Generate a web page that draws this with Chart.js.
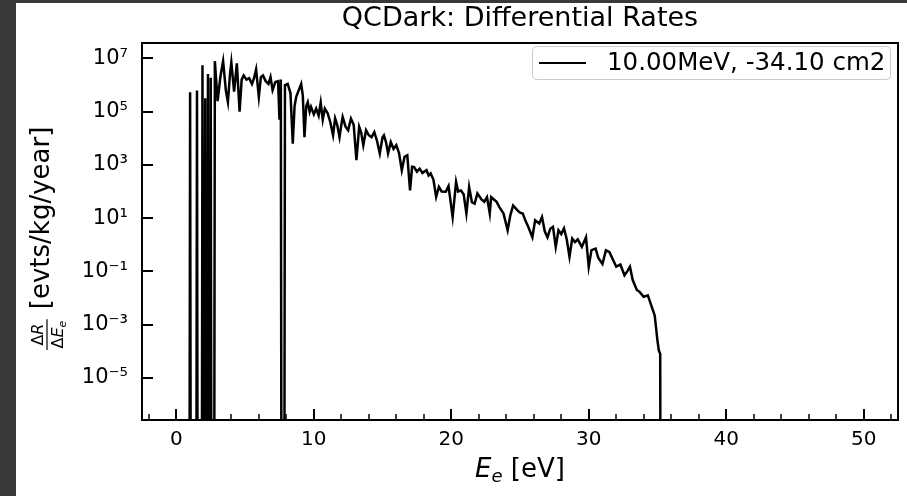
<!DOCTYPE html>
<html>
<head>
<meta charset="utf-8">
<script src="https://cdn.jsdelivr.net/npm/chart.js@4.4.0/dist/chart.umd.min.js"></script>
<style>
  html, body { margin: 0; padding: 0; width: 907px; height: 496px; overflow: hidden; background: #383838; }
  #wrap { position: absolute; left: 16px; top: 3px; width: 891px; height: 493px; background: #fff; }
  canvas { display: block; }
</style>
</head>
<body>
<div id="wrap"><canvas id="rate-chart" width="891" height="493"></canvas></div>
<script>
// electron recoil energy (eV) and differential rate (evts/kg/year)
// a rate of 0 means the curve drops off the bottom of the log axis
const energies = [
  0, 0.9, 1.0, 1.1, 1.4, 1.5, 1.6, 1.8, 1.9, 2.0, 2.1, 2.2, 2.3, 2.4, 2.5, 2.6, 2.7,
  2.8, 3.0, 3.2, 3.4, 3.6, 3.75, 3.9, 4.0, 4.2, 4.4, 4.6, 4.75, 4.9, 5.1, 5.3, 5.5, 5.65, 5.8,
  6.0, 6.15, 6.3, 6.5, 6.7, 6.85, 7.0, 7.2, 7.4, 7.5, 7.6, 7.7, 7.8,
  7.9, 8.1, 8.3, 8.47, 8.6, 8.72, 8.9, 9.08, 9.2, 9.32, 9.45, 9.56, 9.7, 9.8,
  10.0, 10.17, 10.35, 10.5, 10.65, 10.8, 11.0, 11.2, 11.4, 11.55, 11.7, 11.87,
  12.0, 12.1, 12.3, 12.5, 12.7, 12.9, 13.1, 13.3, 13.45, 13.6, 13.8,
  14.0, 14.2, 14.4, 14.6, 14.8, 15.0, 15.1, 15.25, 15.4, 15.6, 15.8,
  16.0, 16.2, 16.4, 16.6, 16.8, 17.0, 17.15, 17.3, 17.5, 17.7, 17.9,
  18.2, 18.35, 18.5, 18.7, 18.9, 19.1, 19.3, 19.6, 19.8,
  20.1, 20.35, 20.5, 20.7, 20.9, 21.1, 21.3, 21.5, 21.7, 21.9,
  22.2, 22.4, 22.6, 22.8, 22.9, 23.1, 23.3, 23.5, 23.8,
  24.1, 24.3, 24.5, 24.8, 25.0, 25.2, 25.4, 25.6, 25.9,
  26.1, 26.4, 26.6, 26.8, 27.0, 27.2, 27.4, 27.6, 27.8,
  28.0, 28.2, 28.4, 28.6, 28.8, 29.0, 29.2, 29.5, 29.8,
  30.0, 30.2, 30.5, 30.7, 31.0, 31.25, 31.5, 31.8,
  32.0, 32.3, 32.6, 32.8, 33.0, 33.2, 33.5, 33.7,
  34.0, 34.3, 34.5, 34.8, 35.0, 35.1, 35.2, 35.3, 50
];
const rates = [
  0, 0, 5.4e5, 0, 0, 6.3e5, 0, 0, 5.6e6, 0, 3.2e5, 0, 2.6e6, 0, 1.9e6, 0, 0,
  7.9e6, 2.5e5, 2.0e6, 7.9e6, 6.3e5, 2.3e5, 2.5e6, 7.1e6, 5.6e5, 6.5e6, 1.0e5, 1.6e6, 2.3e6, 1.6e6, 1.8e6, 1.1e6, 1.8e6, 3.9e6,
  3.6e5, 2.0e6, 2.3e6, 1.4e6, 1.1e6, 2.0e6, 6.5e5, 1.3e6, 1.4e6, 5.0e4, 1.6e6, 0, 0,
  1.0e6, 1.1e6, 5.0e5, 6.3e3, 1.6e5, 3.6e5, 6.3e5, 1.1e6, 4.0e5, 1.1e4, 1.6e5, 2.3e5, 1.0e5, 1.5e5,
  7.9e4, 1.3e5, 7.1e4, 2.2e5, 5.0e4, 1.3e5, 8.9e4, 4.0e4, 1.3e4, 5.6e4, 3.2e4, 1.1e4,
  3.2e4, 6.3e4, 2.8e4, 2.0e4, 5.5e4, 3.2e4, 1.5e3, 2.7e4, 1.6e4, 5.5e3, 2.0e4,
  1.3e4, 1.1e4, 1.7e4, 7.9e3, 2.7e3, 1.1e4, 1.3e4, 7.2e3, 2.7e3, 7.2e3, 4.0e3,
  5.5e3, 2.8e3, 6.3e2, 2.0e3, 2.3e3, 1.1e2, 8.5e2, 8.3e2, 5.6e2, 7.2e2, 5.0e2,
  6.3e2, 4.0e2, 4.8e2, 2.8e2, 63, 150, 100, 98, 160,
  11, 230, 100, 110, 79, 15, 150, 40, 35, 85,
  50, 41, 62, 15, 62, 50, 41, 26, 15,
  3.5, 13, 30, 20, 16, 15, 7.9, 4.7, 1.9,
  8.3, 6.3, 11, 3.2, 1.9, 4.0, 4.7, 0.83, 3.5,
  2.5, 4.1, 1.6, 0.35, 1.7, 1.26, 1.6, 0.83, 1.9,
  0.15, 0.63, 0.72, 0.32, 0.19, 0.62, 0.54, 0.25,
  0.15, 0.18, 0.071, 0.1, 0.15, 0.047, 0.02, 0.017,
  0.011, 0.0126, 0.0063, 0.0022, 0.00025, 0.000107, 0.00008, 0, 0
];

const seriesLabel = '10.00MeV, -34.10 cm2';
const xTickValues = [0, 10, 20, 30, 40, 50];
const xTickLabels = ['0', '10', '20', '30', '40', '50'];
const yTickValues = [1e-5, 1e-3, 1e-1, 1e1, 1e3, 1e5, 1e7];
const yTickLabels = ['10\u207B\u2075', '10\u207B\u00B3', '10\u207B\u00B9', '10\u00B9', '10\u00B3', '10\u2075', '10\u2077'];

const FONT = "'DejaVu Sans', sans-serif";
// log axis cannot show 0: park those points far below the visible range (clipped, like matplotlib)
const LOG_FLOOR = 1e-30;

const framePlugin = {
  id: 'frameAndLabels',
  afterDraw(chart) {
    const ctx = chart.ctx;
    const a = chart.chartArea;
    const xs = chart.scales.x, ys = chart.scales.y;
    ctx.save();
    ctx.strokeStyle = '#000';
    ctx.fillStyle = '#000';

    // inward ticks
    ctx.lineWidth = 2;
    xTickValues.forEach(v => {
      const px = Math.round(xs.getPixelForValue(v));
      ctx.beginPath(); ctx.moveTo(px, a.bottom); ctx.lineTo(px, a.bottom - 11); ctx.stroke();
    });
    yTickValues.forEach(v => {
      const py = Math.round(ys.getPixelForValue(v));
      ctx.beginPath(); ctx.moveTo(a.left, py); ctx.lineTo(a.left + 11, py); ctx.stroke();
    });
    ctx.lineWidth = 1.5;
    for (let v = -2; v <= 52; v += 2) {
      if (v % 10 === 0) continue;
      const px = Math.round(xs.getPixelForValue(v));
      ctx.beginPath(); ctx.moveTo(px, a.bottom); ctx.lineTo(px, a.bottom - 6); ctx.stroke();
    }

    // frame
    ctx.lineWidth = 2;
    ctx.strokeRect(a.left, a.top, a.right - a.left, a.bottom - a.top);

    // x label  E_e [eV]
    const cx = (a.left + a.right) / 2;
    ctx.textBaseline = 'alphabetic';
    ctx.textAlign = 'left';
    const fE = 'italic 26px ' + FONT, fSub = 'italic 18px ' + FONT, fTxt = '26px ' + FONT;
    ctx.font = fE; const wE = ctx.measureText('E').width;
    ctx.font = fSub; const wS = ctx.measureText('e').width;
    ctx.font = fTxt; const wT = ctx.measureText(' [eV]').width;
    const x0 = cx - (wE + wS + wT) / 2;
    const by = 474;
    ctx.font = fE; ctx.fillText('E', x0, by);
    ctx.font = fSub; ctx.fillText('e', x0 + wE, by + 5);
    ctx.font = fTxt; ctx.fillText(' [eV]', x0 + wE + wS, by);

    // y label  (dR/dE_e) [evts/kg/year]
    ctx.save();
    ctx.translate(0, 347);
    ctx.rotate(-Math.PI / 2);
    const fr = '16px ' + FONT, fi = 'italic 16px ' + FONT, fs = 'italic 11px ' + FONT;
    ctx.font = fr; const wD = ctx.measureText('\u0394').width;
    ctx.font = fi; const wR = ctx.measureText('R').width, wEe = ctx.measureText('E').width;
    ctx.font = fs; const we = ctx.measureText('e').width;
    const numW = wD + wR, denW = wD + wEe + we;
    const fracW = Math.max(numW, denW) + 3;
    let u = (fracW - numW) / 2;
    ctx.font = fr; ctx.fillText('\u0394', u, 27);
    ctx.font = fi; ctx.fillText('R', u + wD, 27);
    ctx.lineWidth = 1.2;
    ctx.beginPath(); ctx.moveTo(0, 31); ctx.lineTo(fracW, 31); ctx.stroke();
    u = (fracW - denW) / 2;
    ctx.font = fr; ctx.fillText('\u0394', u, 47);
    ctx.font = fi; ctx.fillText('E', u + wD, 47);
    ctx.font = fs; ctx.fillText('e', u + wD + wEe, 50);
    ctx.font = '26px ' + FONT;
    ctx.fillText('[evts/kg/year]', fracW + 10, 33);
    ctx.restore();

    // legend
    const lx = 516, ly = 43, lw = 358, lh = 33;
    ctx.lineWidth = 1;
    ctx.strokeStyle = '#cccccc';
    ctx.fillStyle = 'rgba(255,255,255,0.8)';
    ctx.beginPath();
    ctx.roundRect(lx + 0.5, ly + 0.5, lw, lh, 4);
    ctx.fill(); ctx.stroke();
    ctx.strokeStyle = '#000';
    ctx.lineWidth = 2.2;
    ctx.beginPath(); ctx.moveTo(lx + 7, ly + 17); ctx.lineTo(lx + 54, ly + 17); ctx.stroke();
    ctx.fillStyle = '#000';
    ctx.font = '24.5px ' + FONT;
    ctx.textBaseline = 'middle';
    ctx.fillText(chart.data.datasets[0].label, lx + 75, ly + 18);
    ctx.restore();
  }
};

new Chart(document.getElementById('rate-chart'), {
  type: 'line',
  data: {
    datasets: [{
      label: seriesLabel,
      data: energies.map((e, i) => ({ x: e, y: rates[i] > 0 ? rates[i] : LOG_FLOOR })),
      borderColor: '#000',
      backgroundColor: '#000',
      borderWidth: 2.5,
      pointRadius: 0,
      tension: 0,
      fill: false
    }]
  },
  options: {
    responsive: false,
    animation: false,
    devicePixelRatio: 1,
    layout: { padding: { left: 0, right: 9, top: 0, bottom: 0 } },
    scales: {
      x: {
        type: 'linear',
        min: -2.5,
        max: 52.5,
        afterBuildTicks: s => { s.ticks = xTickValues.map(v => ({ value: v })); },
        afterFit: s => { s.height = 76; },
        grid: { display: false },
        border: { display: false },
        ticks: {
          callback: v => xTickLabels[xTickValues.indexOf(v)],
          font: { family: FONT, size: 20 },
          color: '#000',
          padding: 0,
          maxRotation: 0,
          autoSkip: false
        }
      },
      y: {
        type: 'logarithmic',
        min: 2.6e-7,
        max: 3.8e7,
        afterBuildTicks: s => { s.ticks = yTickValues.map(v => ({ value: v })); },
        afterFit: s => { s.width = 126; },
        grid: { display: false },
        border: { display: false },
        ticks: {
          callback: v => yTickLabels[yTickValues.indexOf(v)],
          font: { family: FONT, size: 21 },
          color: '#000',
          padding: 6,
          autoSkip: false
        }
      }
    },
    plugins: {
      legend: { display: false },
      tooltip: { enabled: false },
      title: {
        display: true,
        fullSize: false,
        text: 'QCDark: Differential Rates',
        color: '#000',
        font: { family: FONT, size: 27, weight: 'normal' },
        padding: { top: 0, bottom: 7.6 }
      }
    }
  },
  plugins: [framePlugin]
});
</script>
</body>
</html>
